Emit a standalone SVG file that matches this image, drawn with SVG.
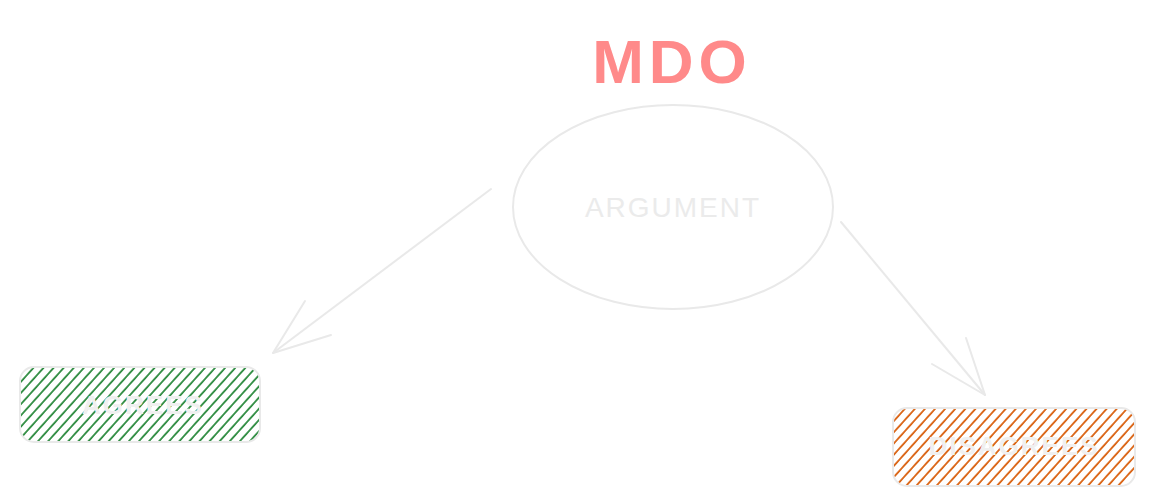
<svg xmlns="http://www.w3.org/2000/svg" width="1153" height="504" viewBox="0 0 1153 504">
<style>
.sk{fill:none;stroke:#e9e9e9;stroke-width:2;stroke-linecap:round;stroke-linejoin:round}
.lbl{font-family:"Liberation Sans",Arial,sans-serif;fill:#ebebeb;text-anchor:middle;dominant-baseline:central}
</style>
<defs>
<pattern id="hg" width="7.5" height="8" patternUnits="userSpaceOnUse" patternTransform="rotate(42)">
<line x1="1" y1="0" x2="1" y2="8" stroke="#2b8a3e" stroke-width="1.8"/>
</pattern>
<pattern id="ho" width="7.5" height="8" patternUnits="userSpaceOnUse" patternTransform="rotate(42)">
<line x1="1" y1="0" x2="1" y2="8" stroke="#d9600f" stroke-width="1.8"/>
</pattern>
</defs>
<rect width="1153" height="504" fill="#ffffff"/>
<g id="title">
<text x="672" y="61" class="lbl" style="fill:#ff8a8a;font-size:62px;font-weight:bold;letter-spacing:5px">MDO</text>
</g>
<g id="connectors">
<path class="sk" d="M491 189 L273 353"/>
<path class="sk" d="M305 301 L273 353 L331 335"/>
<path class="sk" d="M841 222 L985 395"/>
<path class="sk" d="M966 338 L985 395 L932 364"/>
</g>
<g id="argument">
<ellipse class="sk" cx="673" cy="207" rx="160" ry="102"/>
<text x="673" y="207" class="lbl" style="font-size:28px;letter-spacing:2px">ARGUMENT</text>
</g>
<g id="agrees">
<rect x="20" y="367" width="240" height="75" rx="14" fill="url(#hg)"/>
<rect x="20" y="367" width="240" height="75" rx="14" class="sk"/>
<text x="143" y="405" class="lbl" style="font-size:26px;font-weight:bold;letter-spacing:2px;fill:#f0f0f0">AGREES</text>
</g>
<g id="disagrees">
<rect x="893" y="408" width="242" height="78" rx="14" fill="url(#ho)"/>
<rect x="893" y="408" width="242" height="78" rx="14" class="sk"/>
<text x="1014" y="446" class="lbl" style="font-size:26px;font-weight:bold;letter-spacing:2px;fill:#f0f0f0">DISAGREES</text>
</g>
</svg>
